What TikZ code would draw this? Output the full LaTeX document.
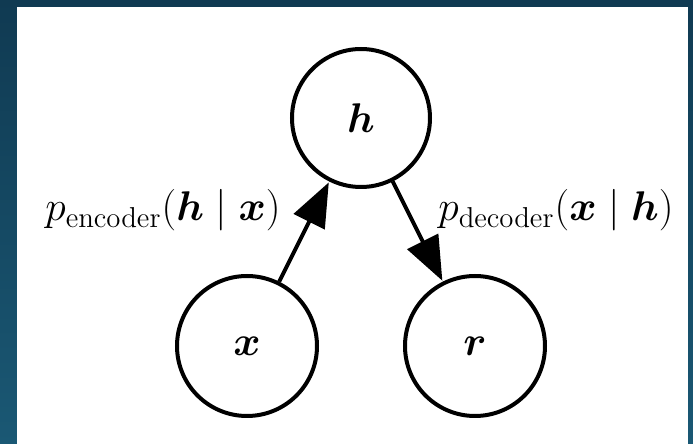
\documentclass[tikz,border=0pt]{standalone}
\usepackage{amsmath}
\usepackage{bm}
\usetikzlibrary{arrows.meta}
\definecolor{bgtop}{RGB}{16,58,82}
\definecolor{bgbot}{RGB}{26,88,116}
\tikzset{
  var/.style={circle, draw=black, line width=2pt, fill=white,
    minimum size=69pt, inner sep=0pt, font=\fontsize{22}{26}\selectfont},
  edge/.style={line width=2pt, -{Triangle[length=22pt,width=17pt]}, shorten >=0.5pt},
  lbl/.style={anchor=base west, inner sep=0pt, font=\fontsize{22}{26}\selectfont}
}
\begin{document}
\begin{tikzpicture}[x=0.5pt, y=-0.5pt]
  % backdrop and white panel
  \useasboundingbox (0,0) rectangle (693,444);
  \shade[top color=bgtop, bottom color=bgbot] (0,0) rectangle (693,444);
  \fill[white] (17,7) rectangle (688,444);
  % variables
  \node[var] (h) at (361,118) {$\bm{h}$};
  \node[var, minimum size=70pt] (x) at (247,346) {$\bm{x}$};
  \node[var, minimum size=70pt] (r) at (475,346) {$\bm{r}$};
  % encoder and decoder
  \draw[edge] (x) -- (h);
  \draw[edge] (h) -- (r);
  \node[lbl] (enc) at (45,221) {$p_{\mathrm{encoder}}(\bm{h} \mid \bm{x})$};
  \node[lbl] (dec) at (438,221) {$p_{\mathrm{decoder}}(\bm{x} \mid \bm{h})$};
\end{tikzpicture}
\end{document}
